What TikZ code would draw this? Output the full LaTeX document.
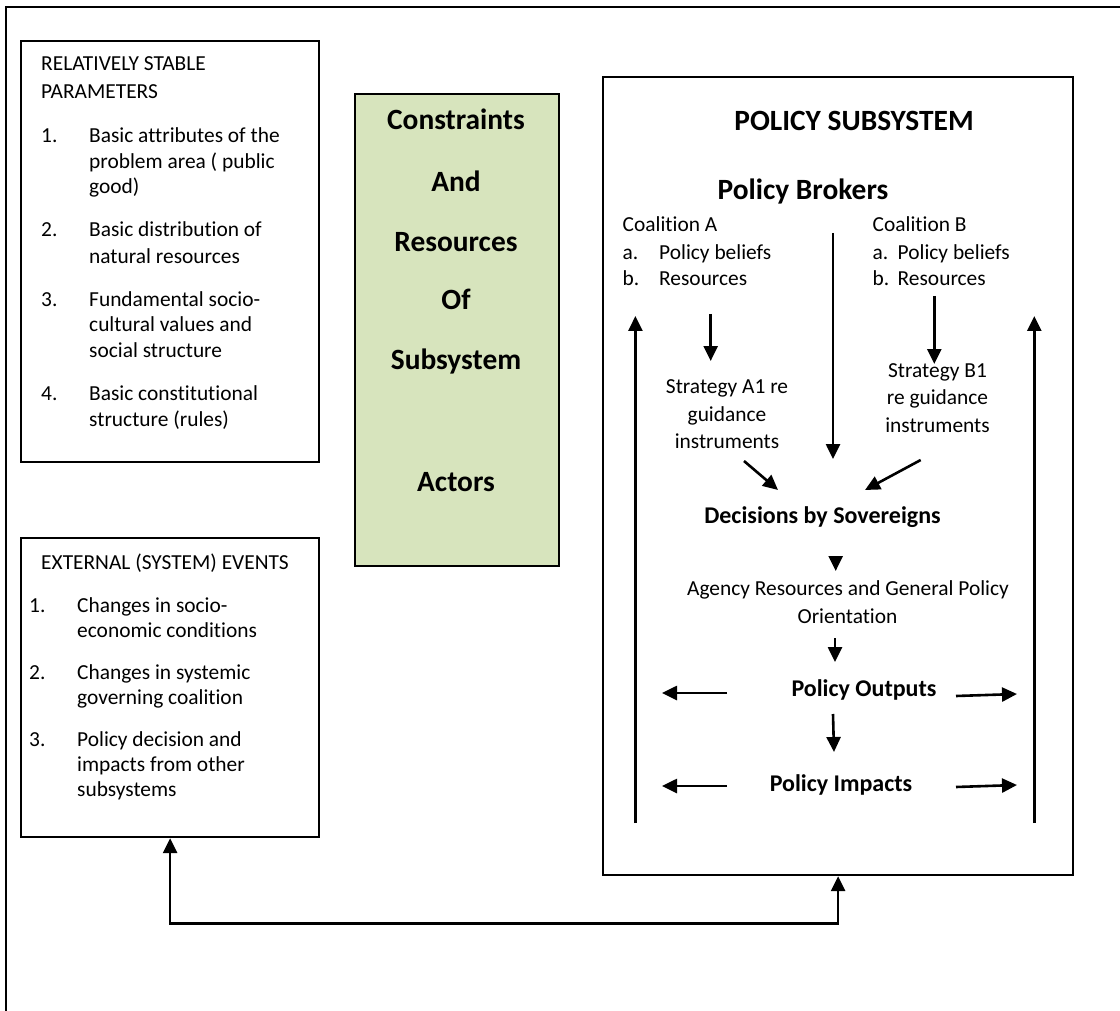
\documentclass[tikz,border=0pt]{standalone}
\usepackage{fontspec}
\setmainfont{Carlito}[Ligatures={NoCommon}]
\usetikzlibrary{arrows.meta}
\definecolor{sagegreen}{HTML}{D7E4BD}
\begin{document}
\begin{tikzpicture}[x=1pt,y=-1pt,
  box/.style={draw=black, line width=2.2pt, inner sep=0pt, anchor=north west},
  txt/.style={inner sep=0pt, font=\fontsize{21.4}{26}\selectfont},
  hd/.style={inner sep=0pt, font=\fontsize{29.4}{34}\selectfont\bfseries},
  hdsmall/.style={inner sep=0pt, font=\fontsize{24}{29}\selectfont\bfseries},
  arr/.style={line width=2.6pt, -{Triangle[length=15pt,width=14pt]}},
  twoway/.style={line width=2.6pt, {Triangle[length=15pt,width=14pt]}-{Triangle[length=15pt,width=14pt]}},
]
\useasboundingbox (0,0) rectangle (1120,1011);
\fill[white] (0,0) rectangle (1120,1011);

% outer frame (runs off the right and bottom edges)
\draw[line width=2.2pt] (6,1020) -- (6,7) -- (1130,7);

% ---------- boxes ----------
\node[box, minimum width=298pt, minimum height=421pt] (stable) at (20,40) {};
\node[box, fill=sagegreen, minimum width=204pt, minimum height=472pt] (constraints) at (354,93) {};
\node[box, minimum width=298pt, minimum height=299pt] (ext) at (20,537) {};
\node[box, minimum width=470pt, minimum height=798pt] (policy) at (602,76) {};

% ---------- relatively stable parameters ----------
\node[txt, anchor=base west] (sth1) at (41,71) {RELATIVELY STABLE};
\node[txt, anchor=base west] (sth2) at (41,99) {PARAMETERS};
\node[txt, anchor=base west] (sn1) at (41,143) {1.};
\node[txt, anchor=base west] (s1a) at (89,143) {Basic attributes of the};
\node[txt, anchor=base west] (s1b) at (89,169) {problem area ( public};
\node[txt, anchor=base west] (s1c) at (89,194) {good)};
\node[txt, anchor=base west] (sn2) at (41,237) {2.};
\node[txt, anchor=base west] (s2a) at (89,237) {Basic distribution of};
\node[txt, anchor=base west] (s2b) at (89,264) {natural resources};
\node[txt, anchor=base west] (sn3) at (41,306) {3.};
\node[txt, anchor=base west] (s3a) at (89,306) {Fundamental socio-};
\node[txt, anchor=base west] (s3b) at (89,331) {cultural values and};
\node[txt, anchor=base west] (s3c) at (89,357) {social structure};
\node[txt, anchor=base west] (sn4) at (41,400) {4.};
\node[txt, anchor=base west] (s4a) at (89,400) {Basic constitutional};
\node[txt, anchor=base west] (s4b) at (89,426) {structure (rules)};

% ---------- external events ----------
\node[txt, anchor=base west] (exh) at (41,569) {EXTERNAL (SYSTEM) EVENTS};
\node[txt, anchor=base west] (en1) at (29,612) {1.};
\node[txt, anchor=base west] (e1a) at (77,612) {Changes in socio-};
\node[txt, anchor=base west] (e1b) at (77,637) {economic conditions};
\node[txt, anchor=base west] (en2) at (29,679) {2.};
\node[txt, anchor=base west] (e2a) at (77,679) {Changes in systemic};
\node[txt, anchor=base west] (e2b) at (77,704) {governing coalition};
\node[txt, anchor=base west] (en3) at (29,746) {3.};
\node[txt, anchor=base west] (e3a) at (77,746) {Policy decision and};
\node[txt, anchor=base west] (e3b) at (77,771) {impacts from other};
\node[txt, anchor=base west] (e3c) at (77,796) {subsystems};

% ---------- constraints column ----------
\node[hd, anchor=base] (c1) at (456,130) {Constraints};
\node[hd, anchor=base] (c2) at (456,192) {And};
\node[hd, anchor=base] (c3) at (456,252) {Resources};
\node[hd, anchor=base] (c4) at (456,310) {Of};
\node[hd, anchor=base] (c5) at (456,370) {Subsystem};
\node[hd, anchor=base] (c6) at (456,491) {Actors};

% ---------- policy subsystem ----------
\node[hd, anchor=base] (ptitle) at (854,131) {POLICY SUBSYSTEM};
\node[hd, anchor=base] (brokers) at (803,200) {Policy Brokers};

\node[txt, anchor=base west] (coalA) at (622.5,232) {Coalition A};
\node[txt, anchor=base west] (aA) at (622.5,260) {a.};
\node[txt, anchor=base west] (aAt) at (659,260) {Policy beliefs};
\node[txt, anchor=base west] (bA) at (622.5,286) {b.};
\node[txt, anchor=base west] (bAt) at (659,286) {Resources};

\node[txt, anchor=base west] (coalB) at (872.5,232) {Coalition B};
\node[txt, anchor=base west] (aB) at (872.5,260) {a.};
\node[txt, anchor=base west] (aBt) at (897.5,260) {Policy beliefs};
\node[txt, anchor=base west] (bB) at (872.5,286) {b.};
\node[txt, anchor=base west] (bBt) at (897.5,286) {Resources};

\node[txt, anchor=base] (stA1) at (727,393) {Strategy A1 re};
\node[txt, anchor=base] (stA2) at (727,421) {guidance};
\node[txt, anchor=base] (stA3) at (727,448) {instruments};
\node[txt, anchor=base] (stB1) at (937.5,377) {Strategy B1};
\node[txt, anchor=base] (stB2) at (937.5,404) {re guidance};
\node[txt, anchor=base] (stB3) at (937.5,432) {instruments};

\node[hdsmall, anchor=base] (decisions) at (822.5,523) {Decisions by Sovereigns};
\node[txt, anchor=base] (agency1) at (848,595) {Agency Resources and General Policy};
\node[txt, anchor=base] (agency2) at (847.5,623) {Orientation};
\node[hdsmall, anchor=base] (outputs) at (864,696) {Policy Outputs};
\node[hdsmall, anchor=base] (impacts) at (841,791) {Policy Impacts};

% ---------- arrow end points ----------
\coordinate (brkS) at (833,233);   \coordinate (brkE) at (833,459);
\coordinate (aS) at (710.7,314);   \coordinate (aE) at (710.7,361);
\coordinate (bS) at (934.3,296);   \coordinate (bE) at (934.3,364);
\coordinate (dAS) at (744,461);    \coordinate (dAE) at (778,490);
\coordinate (dBS) at (920.7,460);  \coordinate (dBE) at (865,490);
\coordinate (fbLS) at (635.4,823); \coordinate (fbLE) at (635.4,316);
\coordinate (fbRS) at (1034.3,823);\coordinate (fbRE) at (1034.3,316);
\coordinate (sovS) at (835.7,556); \coordinate (sovE) at (835.7,571);
\coordinate (oriS) at (835,638);   \coordinate (oriE) at (835,662);
\coordinate (outS) at (833,714);   \coordinate (outE) at (834,752);
\coordinate (oLS) at (727,693);    \coordinate (oLE) at (662,693);
\coordinate (oRS) at (956,696);    \coordinate (oRE) at (1017,694);
\coordinate (iLS) at (727,786);    \coordinate (iLE) at (662,786);
\coordinate (iRS) at (956,787);    \coordinate (iRE) at (1017,785);

% ---------- arrows ----------
\draw[arr] (brkS) -- (brkE);
\draw[arr] (aS) -- (aE);
\draw[arr] (bS) -- (bE);
\draw[arr] (dAS) -- (dAE);
\draw[arr] (dBS) -- (dBE);
\draw[arr] (fbLS) -- (fbLE);
\draw[arr] (fbRS) -- (fbRE);
\draw[arr] (sovS) -- (sovE);
\draw[arr] (oriS) -- (oriE);
\draw[arr] (outS) -- (outE);
\draw[arr] (oLS) -- (oLE);
\draw[arr] (oRS) -- (oRE);
\draw[arr] (iLS) -- (iLE);
\draw[arr] (iRS) -- (iRE);

% link between external events and the policy subsystem
\draw[twoway] (ext.south) -- ++(0,85) -| (policy.south);
\end{tikzpicture}
\end{document}
